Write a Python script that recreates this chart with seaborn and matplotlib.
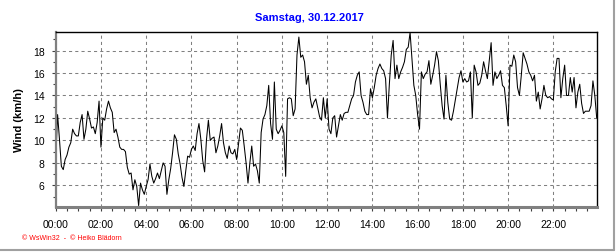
import numpy as np
import pandas as pd
import matplotlib
matplotlib.use("Agg")
import matplotlib.pyplot as plt
import matplotlib.dates as mdates
from matplotlib.ticker import MultipleLocator
from matplotlib.lines import Line2D
import seaborn as sns

title = "Samstag, 30.12.2017"
ylabel = "Wind (km/h)"
credit = "\u00a9 WsWin32  -  \u00a9 Heiko Bl\u00e4dorn"
start = "2017-12-30 00:00"
interval = "5min"

# wind speed in km/h, one reading every 5 minutes from 00:00 to 23:55
wind = [
    8.2, 12.3, 10.1, 7.7, 7.4, 8.3, 8.7, 9.4, 9.8, 11.0, 10.6, 10.4,
    10.4, 11.6, 12.3, 10.1, 11.0, 12.6, 11.9, 11.1, 11.2, 10.6, 11.6, 13.5,
    9.4, 12.0, 11.8, 12.8, 13.5, 12.9, 12.5, 10.7, 11.0, 10.3, 9.4, 9.2,
    9.2, 9.0, 7.6, 7.0, 7.1, 5.6, 6.5, 5.9, 4.2, 6.2, 5.6, 5.2,
    5.9, 6.5, 7.9, 6.8, 6.2, 6.6, 7.1, 6.6, 7.3, 8.0, 7.7, 5.2,
    6.5, 7.5, 8.9, 10.5, 10.1, 8.8, 7.9, 6.7, 5.9, 7.3, 8.6, 8.5,
    9.2, 9.5, 9.1, 10.6, 11.5, 10.1, 8.2, 7.2, 10.1, 11.8, 10.0, 10.2,
    10.3, 8.9, 9.5, 10.4, 11.5, 9.8, 8.9, 8.4, 9.5, 8.9, 8.8, 9.2,
    8.3, 9.7, 11.1, 10.9, 9.5, 8.0, 6.2, 8.0, 9.5, 7.7, 7.9, 7.3,
    6.2, 10.7, 11.9, 12.3, 13.1, 14.9, 11.5, 10.1, 15.2, 11.0, 10.6, 10.9,
    11.3, 10.7, 6.8, 13.7, 13.8, 13.7, 12.2, 12.8, 17.6, 19.2, 17.4, 17.6,
    17.0, 15.0, 15.8, 13.8, 12.9, 13.4, 13.7, 12.9, 12.1, 11.8, 13.8, 12.0,
    13.7, 11.0, 10.6, 12.0, 12.2, 10.3, 11.3, 12.3, 11.8, 12.4, 12.5, 12.5,
    13.1, 13.7, 14.0, 15.2, 15.8, 16.1, 14.0, 13.4, 12.6, 12.3, 12.3, 14.6,
    13.8, 14.7, 15.8, 16.4, 16.8, 16.4, 16.2, 15.5, 12.0, 15.0, 17.6, 18.9,
    15.5, 16.7, 15.5, 16.1, 16.5, 17.0, 18.1, 18.3, 19.6, 17.3, 14.9, 14.0,
    12.3, 11.0, 16.1, 15.5, 15.9, 16.1, 17.1, 15.0, 15.8, 16.7, 17.9, 17.1,
    15.0, 13.1, 11.9, 15.8, 13.4, 11.9, 11.8, 12.6, 13.6, 14.6, 15.6, 16.2,
    15.2, 15.5, 15.2, 15.3, 16.1, 12.0, 16.7, 16.1, 14.9, 15.1, 15.8, 17.0,
    16.2, 15.5, 17.1, 18.7, 14.9, 16.1, 15.5, 15.8, 16.2, 14.9, 14.7, 13.1,
    11.3, 16.7, 16.6, 17.6, 17.0, 14.7, 14.0, 15.8, 17.8, 17.3, 16.8, 16.1,
    15.8, 15.3, 15.8, 13.5, 14.3, 12.8, 13.7, 14.9, 14.0, 13.8, 13.9, 13.7,
    13.6, 16.1, 17.3, 17.3, 13.8, 15.5, 16.7, 14.0, 14.0, 15.6, 14.3, 15.6,
    12.9, 14.3, 15.0, 13.3, 12.4, 12.6, 12.6, 12.6, 13.1, 15.3, 14.0, 12.0,
]
yticks = [6, 8, 10, 12, 14, 16, 18]

times = pd.date_range(start, periods=len(wind), freq=interval)
df = pd.DataFrame({"Zeit": times, "Wind": wind})

sns.set_theme(style="white")
plt.rcParams["font.family"] = ["Liberation Sans", "DejaVu Sans"]

W, H = 616, 253
fig = plt.figure(figsize=(W / 100, H / 100), dpi=100)
fig.patch.set_facecolor("white")
L, R, T, B = 55.7, 596.7, 33.0, 207.7
ax = fig.add_axes([L / W, 1 - B / H, (R - L) / W, (B - T) / H])
ax.set_facecolor("white")

sns.lineplot(data=df, x="Zeit", y="Wind", ax=ax, color="black", linewidth=0.75)

ax.set_xlim(times[0], times[-1])
ax.set_ylim(4.1, 19.65)

ax.xaxis.set_major_locator(mdates.HourLocator(interval=2))
ax.xaxis.set_major_formatter(mdates.DateFormatter("%H:%M"))
ax.xaxis.set_minor_locator(mdates.MinuteLocator(byminute=[0, 30]))
ax.set_yticks(yticks)
ax.yaxis.set_minor_locator(MultipleLocator(1))

gridc = "#808080"
ax.grid(True, which="major", color=gridc, linestyle=(0, (3, 3)), linewidth=0.75)
ax.set_axisbelow(True)

for s in ["top", "right"]:
    ax.spines[s].set_color("black")
    ax.spines[s].set_linewidth(1.0)
ax.spines["left"].set_color(gridc)
ax.spines["left"].set_linewidth(1.6)
ax.spines["bottom"].set_color(gridc)
ax.spines["bottom"].set_linewidth(2.2)

ax.tick_params(axis="x", which="both", direction="out", color="#404040",
               length=3, width=0.8, labelsize=7.5, pad=6, labelcolor="black",
               bottom=True)
ax.tick_params(axis="y", which="major", direction="out", color="#404040",
               length=3, width=0.8, labelsize=7.5, pad=5, labelcolor="black",
               left=True)
ax.tick_params(axis="y", which="minor", direction="out", color="#404040",
               length=2, width=0.8, left=True)

ax.set_xlabel("")
ax.set_ylabel(ylabel, fontsize=8, fontweight="bold", color="black")
ax.yaxis.set_label_coords((24 - L) / (R - L), 0.5)

fig.text(309 / W, 1 - 18 / H, title, ha="center", va="center",
         fontsize=8, fontweight="bold", color="#0000ff")
fig.text(22 / W, 1 - 239 / H, credit, ha="left", va="center",
         fontsize=5, color="#ff0000")

# panel frame on right and bottom
fig.add_artist(Line2D([613.5 / W, 613.5 / W], [1 - 250.5 / H, 1.0],
                      transform=fig.transFigure, color="#a0a0a0", linewidth=1.5))
fig.add_artist(Line2D([0, 613.5 / W], [1 - 250.5 / H, 1 - 250.5 / H],
                      transform=fig.transFigure, color="#a0a0a0", linewidth=1.5))

fig.savefig("out.png", dpi=100, facecolor="white")
